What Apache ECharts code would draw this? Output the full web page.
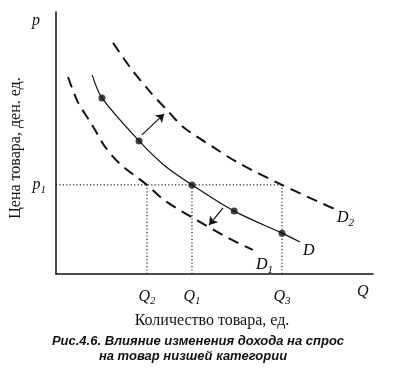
<!DOCTYPE html>
<html><head><meta charset="utf-8">
<script src="https://cdn.jsdelivr.net/npm/echarts@6/dist/echarts.min.js"></script>
<style>html,body{margin:0;padding:0;background:#fff}#c{width:400px;height:382px}</style>
</head><body><div id="c"></div>
<script>
// Data (arbitrary units, 0..100 on both axes)
const curveD  = [[11.4,76.0],[14.5,67.2],[26.2,50.8],[34.4,41.2],[42.9,34.0],[56.2,24.0],[71.3,15.6],[77.0,12.2]];
const curveD1 = [[3.8,75.2],[6.9,65.6],[11.4,56.9],[15.5,48.5],[20.2,42.0],[28.7,34.0],[34.1,28.2],[43.8,21.0],[54.9,13.4],[62.1,9.2]];
const curveD2 = [[18.0,88.2],[23.3,79.0],[29.7,69.5],[35.0,62.6],[40.1,56.1],[49.5,48.5],[57.1,42.7],[71.3,34.0],[88.6,24.4]];
const pointsD = [[14.5,67.2],[26.2,50.8],[42.9,34.0],[56.2,24.0],[71.3,15.6]];
const qTicks = [28.7, 42.9, 71.3];
const qTickLabels = ['Q|2', 'Q|1', 'Q|3'];
const pTicks = [34.0];
const pTickLabels = ['p|1'];
const arrowUp = [[27.1,53.1],[34.1,61.1]];
const arrowDown = [[52.7,25.2],[48.3,18.7]];

const serif = 'Liberation Serif, DejaVu Serif, serif';
const sub = (s) => { const [a,b] = s.split('|'); return '{i|' + a + '}' + (b ? '{s|' + b + '}' : ''); };
const richSym = {
  i: {fontFamily: serif, fontStyle: 'italic', fontSize: 16, color: '#111'},
  s: {fontFamily: serif, fontStyle: 'italic', fontSize: 11, color: '#111', padding: [10,0,0,0]}
};
const dotted = {color: '#222', width: 1.2, type: [1.2, 2.2]};

const chart = echarts.init(document.getElementById('c'), null, {renderer: 'canvas'});
chart.setOption({
  backgroundColor: '#fff',
  animation: false,
  grid: {left: 56, right: 27, top: 12, bottom: 108},
  xAxis: {
    type: 'value', min: 0, max: 100,
    splitLine: {show: false},
    axisLine: {lineStyle: {color: '#111', width: 1.5}},
    axisTick: {show: false},
    axisLabel: {
      customValues: qTicks, margin: 12,
      formatter: (v) => { const k = qTicks.indexOf(v); return k >= 0 ? sub(qTickLabels[k]) : ''; },
      rich: richSym
    }
  },
  yAxis: {
    type: 'value', min: 0, max: 100,
    splitLine: {show: false},
    axisLine: {show: true, lineStyle: {color: '#111', width: 1.5}},
    axisTick: {show: false},
    axisLabel: {
      customValues: pTicks, margin: 10,
      formatter: (v) => { const k = pTicks.indexOf(v); return k >= 0 ? sub(pTickLabels[k]) : ''; },
      rich: richSym
    }
  },
  series: [
    {type: 'line', data: [[0, pTicks[0]], [qTicks[2], pTicks[0]]], symbol: 'none', lineStyle: dotted, z: 1},
    {type: 'line', data: [[qTicks[0], 0], [qTicks[0], pTicks[0]]], symbol: 'none', lineStyle: dotted, z: 1},
    {type: 'line', data: [[qTicks[1], 0], [qTicks[1], pTicks[0]]], symbol: 'none', lineStyle: dotted, z: 1},
    {type: 'line', data: [[qTicks[2], 0], [qTicks[2], pTicks[0]]], symbol: 'none', lineStyle: dotted, z: 1},
    {type: 'line', data: curveD1, smooth: 0.3, symbol: 'none', lineStyle: {color: '#111', width: 2, type: [11, 7]}},
    {type: 'line', data: curveD2, smooth: 0.3, symbol: 'none', lineStyle: {color: '#111', width: 2, type: [11, 7]}},
    {type: 'line', data: curveD, smooth: 0.3, symbol: 'none', lineStyle: {color: '#111', width: 1.2}},
    {type: 'scatter', data: pointsD, symbolSize: 7, itemStyle: {color: '#111'}, z: 5},
    {type: 'lines', coordinateSystem: 'cartesian2d', symbol: ['none', 'arrow'], symbolSize: 8,
     lineStyle: {color: '#111', width: 1.2, opacity: 1},
     data: [{coords: arrowUp}, {coords: arrowDown}], z: 4}
  ],
  graphic: [
    {type: 'text', left: 32, top: 13, style: {text: 'p', font: 'italic 16px ' + serif, fill: '#111'}},
    {type: 'text', left: 357, top: 284, style: {text: 'Q', font: 'italic 16px ' + serif, fill: '#111'}},
    {type: 'text', left: 337, top: 210, style: {text: sub('D|2'), rich: richSym}},
    {type: 'text', left: 303, top: 243, style: {text: sub('D'), rich: richSym}},
    {type: 'text', left: 256, top: 257, style: {text: sub('D|1'), rich: richSym}},
    {type: 'text', x: 16, y: 148, rotation: Math.PI / 2,
     style: {text: 'Цена товара, ден. ед.', font: '16px ' + serif, fill: '#111', align: 'center', verticalAlign: 'middle'}},
    {type: 'text', x: 212, y: 321,
     style: {text: 'Количество товара, ед.', font: '16px ' + serif, fill: '#111', align: 'center', verticalAlign: 'middle'}},
    {type: 'text', x: 198, y: 341,
     style: {text: 'Рис.4.6. Влияние изменения дохода на спрос', font: 'italic bold 13px Liberation Sans, Arial, sans-serif', fill: '#111', align: 'center', verticalAlign: 'middle'}},
    {type: 'text', x: 193, y: 356,
     style: {text: 'на товар низшей категории', font: 'italic bold 13px Liberation Sans, Arial, sans-serif', fill: '#111', align: 'center', verticalAlign: 'middle'}}
  ]
});
</script></body></html>
